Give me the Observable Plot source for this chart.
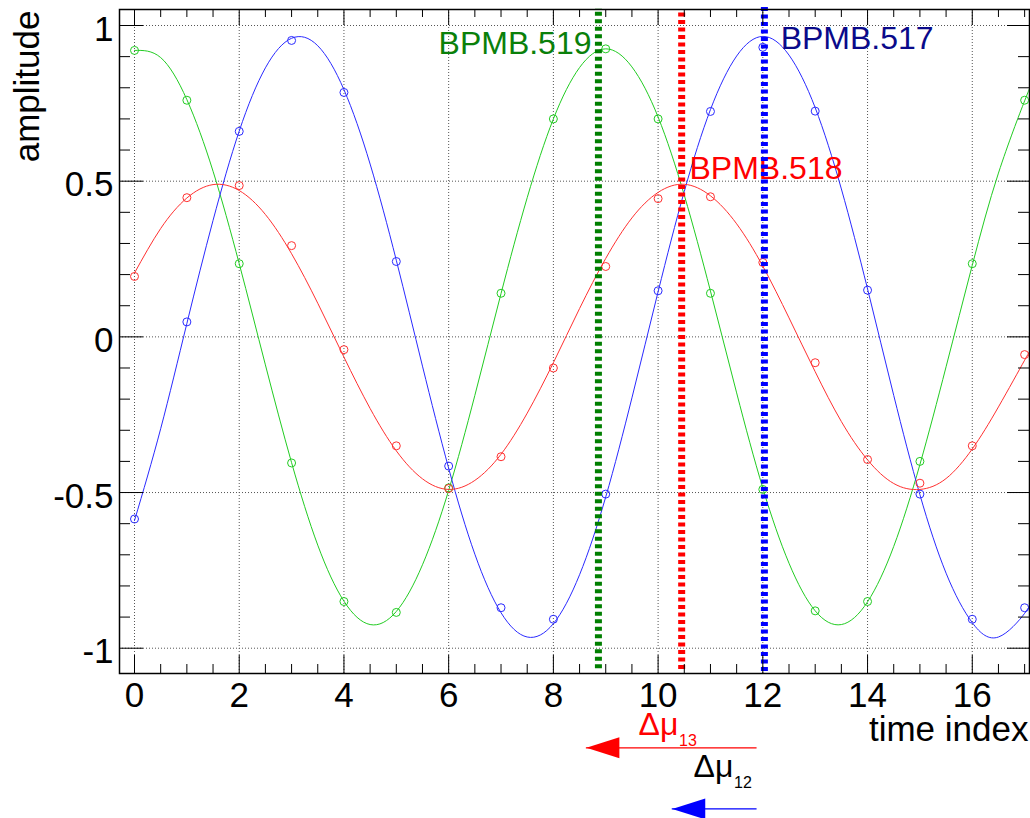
<!DOCTYPE html>
<html>
<head>
<meta charset="utf-8">
<script src="https://cdn.jsdelivr.net/npm/d3@7"></script>
<script src="https://cdn.jsdelivr.net/npm/@observablehq/plot@0.6"></script>
<style>
  html, body { margin: 0; padding: 0; background: #fff; }
  #chart svg { display: block; }
</style>
</head>
<body>
<div id="chart"></div>
<script>
// ---- data ----
const timeIndex = [0, 1, 2, 3, 4, 5, 6, 7, 8, 9, 10, 11, 12, 13, 14, 15, 16, 17];
const bpmb517 = [-0.585, 0.048, 0.66, 0.952, 0.785, 0.242, -0.415, -0.87, -0.907, -0.505, 0.148, 0.724, 0.93, 0.725, 0.15, -0.505, -0.907, -0.87];
const bpmb518 = [0.194, 0.447, 0.486, 0.293, -0.041, -0.35, -0.487, -0.385, -0.10, 0.226, 0.444, 0.45, 0.239, -0.083, -0.394, -0.47, -0.35, -0.057];
const bpmb519 = [0.92, 0.76, 0.235, -0.405, -0.85, -0.885, -0.485, 0.14, 0.70, 0.925, 0.70, 0.14, -0.49, -0.88, -0.85, -0.40, 0.235, 0.76];

// fitted curves
const fitX = [0, 0.5, 1, 1.5, 2, 2.5, 3, 3.5, 4, 4.5, 5, 5.5, 6, 6.5, 7, 7.5, 8, 8.5, 9, 9.5, 10, 10.5, 11, 11.5, 12, 12.5, 13, 13.5, 14, 14.5, 15, 15.5, 16, 16.5, 17, 17.09];
const fit517 = [-0.59, -0.295, 0.043, 0.374, 0.661, 0.864, 0.959, 0.935, 0.794, 0.555, 0.246, -0.094, -0.422, -0.698, -0.886, -0.964, -0.921, -0.764, -0.514, -0.196, 0.145, 0.467, 0.730, 0.902, 0.965, 0.905, 0.736, 0.475, 0.154, -0.188, -0.507, -0.759, -0.918, -0.964, -0.888, -0.857];
const fit518 = [0.205, 0.348, 0.446, 0.489, 0.470, 0.393, 0.267, 0.108, -0.065, -0.230, -0.366, -0.456, -0.490, -0.461, -0.377, -0.245, -0.083, 0.091, 0.252, 0.382, 0.464, 0.490, 0.453, 0.363, 0.227, 0.061, -0.112, -0.272, -0.395, -0.471, -0.490, -0.455, -0.360, -0.225, -0.075, -0.050];
const fit519 = [0.920, 0.897, 0.762, 0.532, 0.235, -0.090, -0.404, -0.669, -0.849, -0.924, -0.882, -0.732, -0.493, -0.188, 0.139, 0.447, 0.700, 0.865, 0.925, 0.867, 0.706, 0.455, 0.147, -0.180, -0.486, -0.727, -0.880, -0.924, -0.851, -0.673, -0.410, -0.096, 0.230, 0.526, 0.758, 0.794];

const markerNames = ["BPMB.519", "BPMB.518", "BPMB.517"];
const markerTimes = [8.86, 10.45, 12.03];

const xTicks = [0, 2, 4, 6, 8, 10, 12, 14, 16];
const xTickLabels = ["0", "2", "4", "6", "8", "10", "12", "14", "16"];
const yTicks = [-1, -0.5, 0, 0.5, 1];
const yTickLabels = ["-1", "-0.5", "0", "0.5", "1"];
const xTitle = "time index";
const yTitle = "amplitude";

// phase-advance arrows (start time, end time, level)
const arrowStart = [11.89, 11.89];
const arrowEnd = [8.63, 10.27];
const arrowLevel = [-1.32, -1.516];
const arrowNames = ["Δμ", "Δμ"];
const arrowSubs = ["13", "12"];

// ---- layout / styles ----
const W = 1030, H = 818;
const mL = 119, mR = 1, mT = 9, mB = 145;
const frameW = W - mL - mR, frameH = H - mT - mB;
const FONT = "'Liberation Sans', Arial, Helvetica, sans-serif";
const colGreen = "#22cc22", colRed = "#ff3030", colBlue = "#2a2aff";
const markerColors = ["#007f00", "#ff0000", "#0000ff"];
const labelColors = ["#0a800a", "#ff0000", "#0a0a8a"];

const curveData = (ys) => fitX.map((x, i) => ({x, y: ys[i]}));
const pointData = (ys) => timeIndex.map((x, i) => ({x, y: ys[i]}));

const xMinor = d3.range(0, 17.1, 0.5).filter(v => !xTicks.includes(v));
const yMinor = d3.range(-10, 11, 1).map(v => v / 10).filter(v => !yTicks.includes(v));

const series = [
  {fit: fit519, pts: bpmb519, color: colGreen},
  {fit: fit517, pts: bpmb517, color: colBlue},
  {fit: fit518, pts: bpmb518, color: colRed}
];

const markers = markerNames.map((name, i) => ({name, t: markerTimes[i], color: markerColors[i], label: labelColors[i]}));
const markerTop = [1.055, 1.045, 1.064];
const markerBottom = [-1.066, -1.068, -1.075];
const labelPos = [
  {x: 8.728, y: 0.943, anchor: "end"},
  {x: 10.60, y: 0.541, anchor: "start"},
  {x: 12.34, y: 0.959, anchor: "start"}
];

const arrows = arrowStart.map((s, i) => ({s, e: arrowEnd[i], y: arrowLevel[i], name: arrowNames[i], sub: arrowSubs[i]}));
const arrowColors = ["#ff0000", "#0000ff"];
const arrowLabelColors = ["#ff0000", "#000000"];
const arrowLabelPos = [
  {x: 9.626, y: -1.246, sx: 10.40, sy: -1.298},
  {x: 10.676, y: -1.380, sx: 11.45, sy: -1.434}
];

// custom arrow head: tip at origin, pointing left
const headLeft = {
  draw(ctx) {
    ctx.moveTo(0, 0);
    ctx.lineTo(33, -10.5);
    ctx.lineTo(33, 10.5);
    ctx.closePath();
  }
};

const marks = [
  // grid
  Plot.ruleX(xTicks, {x: d => d, stroke: "#555", strokeWidth: 1, strokeDasharray: "1,2"}),
  Plot.ruleY(yTicks, {y: d => d, stroke: "#555", strokeWidth: 1, strokeDasharray: "1,2"}),
];

// fitted curves and measured points
for (const s of series) {
  marks.push(Plot.line(curveData(s.fit), {x: "x", y: "y", stroke: s.color, strokeWidth: 1, curve: "natural"}));
}
for (const s of series) {
  marks.push(Plot.dot(pointData(s.pts), {x: "x", y: "y", stroke: s.color, fill: "none", r: 4, strokeWidth: 1}));
}

// dashed BPM markers
markers.forEach((m, i) => {
  marks.push(Plot.ruleX([m], {x: "t", y1: markerBottom[i], y2: markerTop[i], stroke: m.color, strokeWidth: 7, strokeDasharray: "4,3.5"}));
  marks.push(Plot.text([m], {x: () => labelPos[i].x, y: () => labelPos[i].y, text: "name", fill: m.label,
    textAnchor: labelPos[i].anchor, fontSize: 32, fontFamily: FONT}));
});

// ticks (inside the frame, on all four sides)
marks.push(
  Plot.ruleX(xTicks, {x: d => d, stroke: "#000", strokeWidth: 1, insetTop: frameH - 18}),
  Plot.ruleX(xMinor, {x: d => d, stroke: "#000", strokeWidth: 1, insetTop: frameH - 9}),
  Plot.ruleX(xTicks, {x: d => d, stroke: "#000", strokeWidth: 1, insetBottom: frameH - 16}),
  Plot.ruleX(xMinor, {x: d => d, stroke: "#000", strokeWidth: 1, insetBottom: frameH - 8}),
  Plot.ruleY(yTicks, {y: d => d, stroke: "#000", strokeWidth: 1, insetRight: frameW - 24}),
  Plot.ruleY(yMinor, {y: d => d, stroke: "#000", strokeWidth: 1, insetRight: frameW - 11}),
  Plot.ruleY(yTicks, {y: d => d, stroke: "#000", strokeWidth: 1, insetLeft: frameW - 22}),
  Plot.ruleY(yMinor, {y: d => d, stroke: "#000", strokeWidth: 1, insetLeft: frameW - 11}),
  Plot.frame({stroke: "#000", strokeWidth: 1.5})
);

// tick labels
marks.push(
  Plot.text(xTicks, {x: d => d, text: (d, i) => xTickLabels[i], frameAnchor: "bottom", lineAnchor: "top",
    dy: 9, fontSize: 35, fontFamily: FONT, fill: "#000"}),
  Plot.text(yTicks, {y: d => d, text: (d, i) => yTickLabels[i], frameAnchor: "left", textAnchor: "end",
    dx: -6, dy: 4, fontSize: 35, fontFamily: FONT, fill: "#000"})
);

// axis titles
marks.push(
  Plot.text([xTitle], {text: d => d, frameAnchor: "bottom-right", textAnchor: "end", dx: -1, dy: 67,
    fontSize: 35, fontFamily: FONT, fill: "#000"}),
  Plot.text([yTitle], {text: d => d, frameAnchor: "top-left", textAnchor: "end", rotate: -90, dx: -105, dy: 1,
    fontSize: 35, fontFamily: FONT, fill: "#000"})
);

// arrows and their labels
arrows.forEach((a, i) => {
  marks.push(
    Plot.ruleY([a], {y: "y", x1: "s", x2: "e", stroke: arrowColors[i], strokeWidth: 1.2}),
    Plot.dot([a], {x: "e", y: "y", r: 5, symbol: headLeft, fill: arrowColors[i], stroke: "none"}),
    Plot.text([a], {x: () => arrowLabelPos[i].x, y: () => arrowLabelPos[i].y, text: "name", textAnchor: "start",
      fontSize: 32, fontFamily: FONT, fill: arrowLabelColors[i]}),
    Plot.text([a], {x: () => arrowLabelPos[i].sx, y: () => arrowLabelPos[i].sy, text: "sub", textAnchor: "start",
      fontSize: 16, fontFamily: FONT, fill: arrowLabelColors[i]})
  );
});

const chart = Plot.plot({
  width: W,
  height: H,
  marginLeft: mL,
  marginRight: mR,
  marginTop: mT,
  marginBottom: mB,
  style: {background: "white", fontFamily: FONT},
  x: {domain: [-0.2865, 17.093], axis: null},
  y: {domain: [-1.0812, 1.0514], axis: null},
  marks
});
document.getElementById("chart").appendChild(chart);
</script>
</body>
</html>
